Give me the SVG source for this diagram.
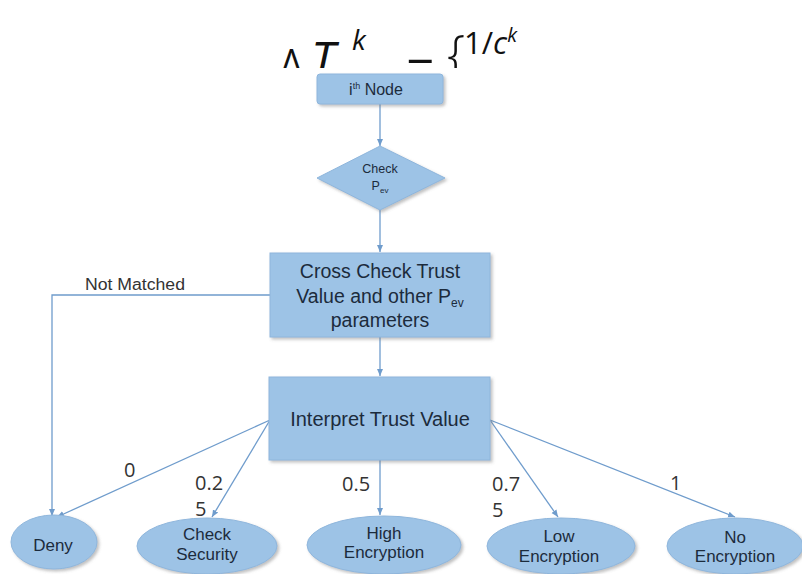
<svg xmlns="http://www.w3.org/2000/svg" width="802" height="574" viewBox="0 0 802 574">
<defs>
<style>
.box{fill:#9dc3e6;stroke:#8fb6dc;stroke-width:1;filter:url(#sh)}
.t{font-family:"Liberation Sans",Arial,sans-serif;fill:#1c2b3c;text-anchor:middle}
.e{font-family:"Liberation Sans",Arial,sans-serif;fill:#1c2b3c;text-anchor:middle;font-size:17px}
.c{stroke:#6f9ccc;stroke-width:1.3;fill:none;marker-end:url(#ah)}
.lab{font-family:"Open Sans","Liberation Sans",sans-serif;font-size:20px;fill:#333}
.f{font-family:"Open Sans","Liberation Sans",sans-serif;fill:#111}
</style>
<filter id="sh" x="-10%" y="-10%" width="125%" height="130%">
<feDropShadow dx="2" dy="2" stdDeviation="1.5" flood-color="#777" flood-opacity="0.45"/>
</filter>
<marker id="ah" markerWidth="8" markerHeight="8" refX="7" refY="4" orient="auto" markerUnits="userSpaceOnUse">
<path d="M0,1 L7,4 L0,7 Z" fill="#6f9ccc"/>
</marker>
<clipPath id="clipTop"><rect x="0" y="0" width="802" height="68"/></clipPath>
</defs>
<rect width="802" height="574" fill="#fff"/>

<g id="formula" clip-path="url(#clipTop)">
<text class="f" x="281" y="75" font-size="36">Δ</text>
<text class="f" x="311" y="76" font-size="48" font-style="italic">T<tspan x="352" y="50" font-size="28">k</tspan></text>
<text class="f" x="406" y="84" font-size="50">=</text>
<text class="f" x="447" y="72" font-size="52" font-weight="300">{</text>
<text class="f" x="464" y="54" font-size="31">1/<tspan font-style="italic">c</tspan><tspan font-style="italic" font-size="20" dy="-12">k</tspan></text>
</g>

<g id="connectors">
<line class="c" x1="380" y1="104" x2="380" y2="146"/>
<line class="c" x1="380" y1="210" x2="380" y2="252"/>
<polyline class="c" points="270,295 52,295 52,516"/>
<line class="c" x1="380" y1="337" x2="380" y2="376"/>
<line class="c" x1="270" y1="420" x2="57" y2="517"/>
<line class="c" x1="270" y1="420" x2="212" y2="517"/>
<line class="c" x1="380" y1="460" x2="380" y2="515"/>
<line class="c" x1="490" y1="420" x2="558" y2="517"/>
<line class="c" x1="490" y1="420" x2="735" y2="517"/>
<text x="85" y="290" font-family="Liberation Sans, Arial, sans-serif" font-size="16" fill="#333" textLength="100" lengthAdjust="spacingAndGlyphs">Not Matched</text>
<text class="lab" x="124" y="477">0</text>
<text class="lab" x="195" y="490">0.2</text>
<text class="lab" x="195" y="516">5</text>
<text class="lab" x="342" y="491">0.5</text>
<text class="lab" x="492" y="491">0.7</text>
<text class="lab" x="492" y="517">5</text>
<text class="lab" x="670" y="490">1</text>
</g>

<g id="node-ith">
<rect class="box" x="317" y="74" width="126" height="30" rx="3"/>
<text class="t" x="376" y="95" font-size="16">i<tspan font-size="9" dy="-6">th</tspan><tspan dy="6"> Node</tspan></text>
</g>

<g id="node-check">
<polygon class="box" points="380,146 445,178 380,210 317,178"/>
<text class="t" x="380" y="173" font-size="12.5">Check</text>
<text class="t" x="380" y="190" font-size="12.5">P<tspan font-size="8" dy="3">ev</tspan></text>
</g>

<g id="node-cross">
<rect class="box" x="270" y="253" width="220" height="84"/>
<text class="t" x="380" y="278" font-size="19.5">Cross Check Trust</text>
<text class="t" x="380" y="303" font-size="19.5">Value and other P<tspan font-size="12" dy="4">ev</tspan></text>
<text class="t" x="380" y="327" font-size="19.5">parameters</text>
</g>

<g id="node-interpret">
<rect class="box" x="269" y="377" width="221" height="83"/>
<text class="t" x="380" y="426" font-size="20">Interpret Trust Value</text>
</g>

<g id="node-deny">
<ellipse class="box" cx="54" cy="542" rx="43" ry="27"/>
<text class="e" x="53" y="551">Deny</text>
</g>

<g id="node-security">
<ellipse class="box" cx="207" cy="546" rx="70" ry="28"/>
<text class="e" x="207" y="540">Check</text>
<text class="e" x="207" y="560">Security</text>
</g>

<g id="node-high">
<ellipse class="box" cx="384" cy="545" rx="77" ry="29"/>
<text class="e" x="384" y="539">High</text>
<text class="e" x="384" y="558">Encryption</text>
</g>

<g id="node-low">
<ellipse class="box" cx="561" cy="546" rx="74" ry="28"/>
<text class="e" x="559" y="542">Low</text>
<text class="e" x="559" y="562">Encryption</text>
</g>

<g id="node-no">
<ellipse class="box" cx="735" cy="546" rx="68" ry="28"/>
<text class="e" x="735" y="543">No</text>
<text class="e" x="735" y="562">Encryption</text>
</g>
</svg>
